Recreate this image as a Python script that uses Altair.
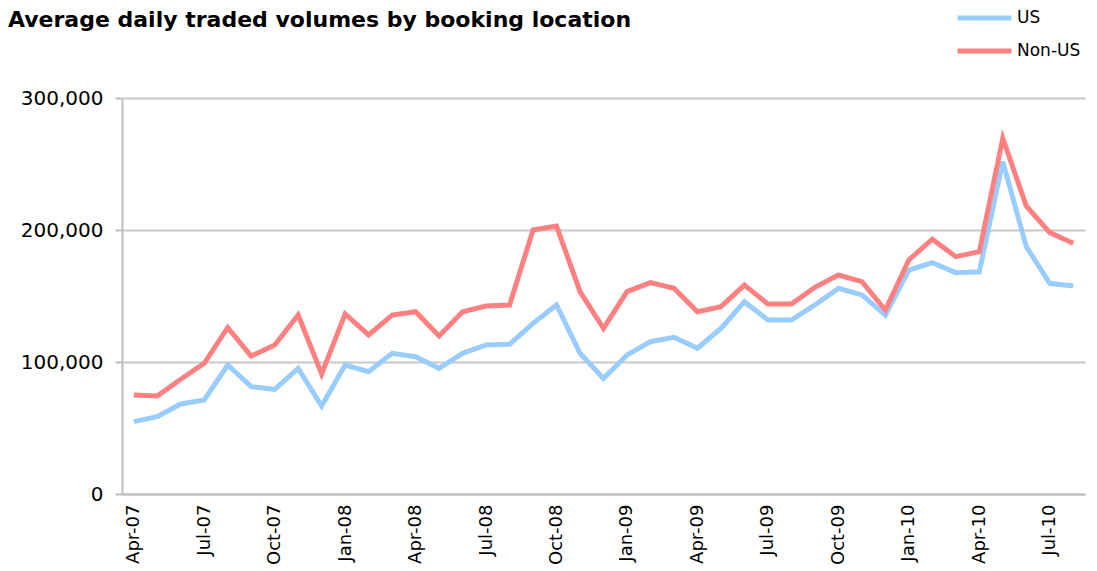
import altair as alt
import pandas as pd

months = ["Apr-07","May-07","Jun-07","Jul-07","Aug-07","Sep-07","Oct-07","Nov-07","Dec-07",
          "Jan-08","Feb-08","Mar-08","Apr-08","May-08","Jun-08","Jul-08","Aug-08","Sep-08","Oct-08","Nov-08","Dec-08",
          "Jan-09","Feb-09","Mar-09","Apr-09","May-09","Jun-09","Jul-09","Aug-09","Sep-09","Oct-09","Nov-09","Dec-09",
          "Jan-10","Feb-10","Mar-10","Apr-10","May-10","Jun-10","Jul-10","Aug-10"]

us = [54800, 58600, 68200, 71200, 97700, 81300, 79300, 95200, 66700,
      97700, 92700, 106600, 104000, 95200, 106600, 112900, 113400, 129300, 143200, 106600, 87600,
      105300, 115400, 118700, 110400, 125500, 145700, 131800, 131800, 143200, 155800, 150800, 135600,
      169700, 175200, 167700, 168400, 251800, 187400, 159600, 157600]

non_us = [75000, 74200, 86900, 99000, 126000, 104500, 112900, 135600, 90900,
          136400, 120500, 135600, 138100, 119700, 138100, 142400, 143200, 200000, 203000, 153300, 125500,
          153300, 160100, 155800, 138100, 141900, 158300, 143900, 143900, 156600, 165900, 160900, 139400,
          177300, 193000, 179800, 183600, 269500, 218200, 198000, 189900]

tick_labels = months[::3]
series = ["US", "Non-US"]
colors = ["#99ccff", "#ff8080"]

df = pd.concat([
    pd.DataFrame({"month": months, "value": us, "series": "US"}),
    pd.DataFrame({"month": months, "value": non_us, "series": "Non-US"}),
])

chart = alt.Chart(df).mark_line(strokeWidth=5, strokeJoin="miter").encode(
    x=alt.X("month:O", sort=months, scale=alt.Scale(type="point", padding=0.5),
            axis=alt.Axis(values=tick_labels, labelAngle=-90, title=None, ticks=False,
                          labelFontSize=18, labelFont="DejaVu Sans", labelColor="#000000",
                          labelPadding=10, domainColor="#c0c0c0", domainWidth=2, grid=False)),
    y=alt.Y("value:Q", scale=alt.Scale(domain=[0, 300000]),
            axis=alt.Axis(values=[0, 100000, 200000, 300000], format=",d", title=None,
                          labelFontSize=20, labelFont="DejaVu Sans", labelColor="#000000",
                          tickSize=7, tickColor="#c0c0c0", tickWidth=2, labelPadding=12,
                          domainColor="#c0c0c0", domainWidth=2,
                          gridColor="#c8c8c8", gridWidth=2)),
    color=alt.Color("series:N", sort=series,
                    scale=alt.Scale(domain=series, range=colors),
                    legend=alt.Legend(title=None, orient="none", legendX=833, legendY=-90,
                                      symbolType="stroke", symbolStrokeWidth=5, symbolSize=2900,
                                      clipHeight=20, padding=0,
                                      labelFontSize=17, labelFont="DejaVu Sans", labelColor="#000000",
                                      labelOffset=3, rowPadding=13)),
).properties(
    width=963, height=396,
    title=alt.TitleParams("Average daily traded volumes by booking location", anchor="start",
                          frame="group", offset=0, dx=-114, dy=24, font="DejaVu Sans", fontSize=22,
                          fontWeight="bold", color="#000000"),
    padding={"left": 114, "top": 90, "right": 4, "bottom": 75},
    autosize=alt.AutoSizeParams(type="none"),
).configure_view(stroke=None)

chart.save("out.html", embed_options={"renderer": "svg", "actions": False})
